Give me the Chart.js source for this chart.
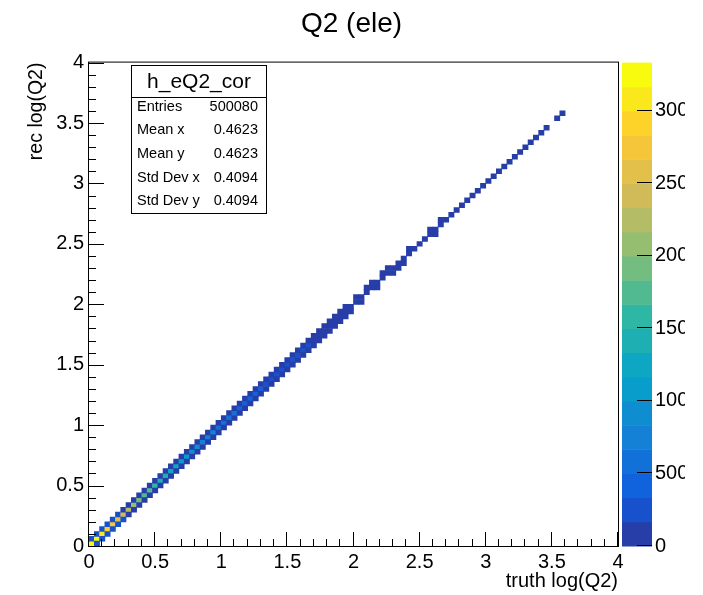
<!DOCTYPE html>
<html><head><meta charset="utf-8">
<script src="https://cdn.jsdelivr.net/npm/chart.js@4.4.1/dist/chart.umd.min.js"></script>
<style>html,body{margin:0;padding:0;background:#fff}</style>
</head><body>
<canvas id="c" width="703" height="595"></canvas>
<script>
// ---------------- data ----------------
const binWidth = 0.04;            // histogram bin width (100 bins over 0..4)
const axisTickValues = [0, 0.5, 1, 1.5, 2, 2.5, 3, 3.5, 4];
const axisTickLabels = ['0', '0.5', '1', '1.5', '2', '2.5', '3', '3.5', '4'];
const colorTickValues = [0, 500, 1000, 1500, 2000, 2500, 3000];
const colorTickLabels = ['0', '500', '1000', '1500', '2000', '2500', '3000'];
const chartTitle = 'Q2 (ele)';
const xTitle = 'truth log(Q2)';
const yTitle = 'rec log(Q2)';
const histName = 'h_eQ2_cor';
const statNames = ['Entries', 'Mean x', 'Mean y', 'Std Dev x', 'Std Dev y'];
const statValues = ['500080', '0.4623', '0.4623', '0.4094', '0.4094'];

// counts in cell (i, i) for truth bin i
const diagCounts = [3330,3260,3050,2900,2720,2560,2400,2250,2100,1960,
  1820,1700,1580,1480,1380,1280,1190,1100,1020,950,
  880,815,755,700,648,600,556,515,477,442,
  410,380,352,326,302,280,259,240,222,206,
  191,177,160,148,137,126,116,106,97,88,
  80,72,65,58,52,46,41,36,32,28,
  24,21,18,15,13,11,9,8,7,6,
  5,4,4,3,3,2,2,2,2,1,
  1,1,1,1,1,1,1,0,1,1];
// counts in cell (i, i+1)
const aboveCounts = [240,230,215,200,190,178,166,158,148,138,
  128,120,112,104,97,90,84,78,72,67,
  62,58,54,50,46,43,40,37,34,32,
  30,28,26,24,22,20,19,17,16,15,
  14,13,12,11,10,9,8,7,6,0,
  5,0,4,4,0,3,3,0,0,0,
  2,0,0,0,2,0,1,0,0,0,
  0,0,0,0,0,0,0,0,0,0,
  0,0,0,0,0,0,0,0,0,0];
// counts in cell (i, i-1)
const belowCounts = [0,235,222,205,194,180,170,160,150,140,
  131,122,114,106,99,92,86,80,74,69,
  64,59,55,51,47,44,41,38,35,33,
  31,29,27,25,23,21,20,18,17,16,
  15,14,13,12,11,10,9,8,7,6,
  0,5,0,0,4,0,0,3,3,2,
  0,0,0,0,0,2,0,0,0,0,
  0,0,0,0,0,0,0,0,0,0,
  0,0,0,0,0,0,0,0,0,0];

// ---------------- palette (ROOT kBird, 20 contours) ----------------
const birdR = [0.2082,0.0592,0.0780,0.0232,0.1802,0.5301,0.8186,0.9956,0.9764];
const birdG = [0.1664,0.3599,0.5041,0.6419,0.7178,0.7492,0.7328,0.7862,0.9832];
const birdB = [0.5293,0.8684,0.8385,0.7914,0.6425,0.4662,0.3499,0.1968,0.0539];
const nContours = 20;
const colorMax = Math.max(...diagCounts, ...aboveCounts, ...belowCounts);
function paletteAt(t) {
  const s = t * 8; const j = Math.min(7, Math.floor(s)); const f = s - j;
  const c = (arr) => Math.round(255 * (arr[j] + (arr[j + 1] - arr[j]) * f));
  return `rgb(${c(birdR)},${c(birdG)},${c(birdB)})`;
}
function levelColorIdx(k) {
  const idx = Math.floor((k + 0.99) * 255 / nContours);
  return paletteAt(Math.min(idx, 254) / 254);
}
function countColor(n) {
  let k = Math.floor(n / (colorMax / nContours));
  if (k > nContours - 1) k = nContours - 1;
  return levelColorIdx(k);
}

// ---------------- cells ----------------
const cells = [];
function addCell(ix, iy, n) {
  if (n > 0 && iy >= 0) cells.push({ x: (ix + 0.5) * binWidth, y: [iy * binWidth, (iy + 1) * binWidth], v: n });
}
diagCounts.forEach((n, i) => {
  addCell(i, i, n);
  addCell(i, i + 1, aboveCounts[i] || 0);
  addCell(i, i - 1, belowCounts[i] || 0);
});

const FONT = "'Liberation Sans', Arial, Helvetica, sans-serif";

const padClip = {
  id: 'padClip',
  beforeDraw(chart) {
    const ctx = chart.ctx;
    ctx.save();
    ctx.beginPath(); ctx.rect(0, 0, 685, chart.height); ctx.clip();
  },
  afterDraw(chart) { chart.ctx.restore(); }
};

const decor = {
  id: 'decor',
  afterDraw(chart) {
    const ctx = chart.ctx, a = chart.chartArea;
    const xs = chart.scales.x, ys = chart.scales.y, cs = chart.scales.y2;
    ctx.save();
    ctx.strokeStyle = '#000'; ctx.lineWidth = 1;
    // frame
    ctx.strokeRect(a.left - 0.5, a.top - 0.5, a.right - a.left + 1, a.bottom - a.top + 1);
    // axis ticks (inward)
    ctx.beginPath();
    for (let k = 0; k <= 40; k++) {
      const v = k * 0.1; const L = (k % 5 === 0) ? 14 : 7;
      const px = Math.round(xs.getPixelForValue(v)) - 0.5;
      ctx.moveTo(px, a.bottom); ctx.lineTo(px, a.bottom - L);
      const py = Math.round(ys.getPixelForValue(v)) + 0.5;
      const Ly = (k % 5 === 0) ? 15 : 7;
      ctx.moveTo(a.left, py); ctx.lineTo(a.left + Ly, py);
    }
    ctx.stroke();
    // palette
    const x0 = a.right + 4, x1 = a.right + 34;
    const step = colorMax / nContours;
    for (let k = 0; k < nContours; k++) {
      const yb = cs.getPixelForValue(k * step), yt = cs.getPixelForValue((k + 1) * step);
      ctx.fillStyle = levelColorIdx(k);
      ctx.fillRect(x0, yt, x1 - x0, yb - yt + 0.5);
    }
    ctx.beginPath();
    colorTickValues.forEach(v => {
      const py = Math.round(cs.getPixelForValue(v)) - 0.5;
      ctx.moveTo(x1 - 15, py); ctx.lineTo(x1, py);
    });
    ctx.stroke();
    // stats box
    const bx0 = 131.5, by0 = 65.5, bx1 = 266.5, by1 = 213.5, sep = 97.5;
    ctx.fillStyle = '#fff';
    ctx.fillRect(bx0, by0, bx1 - bx0, by1 - by0);
    ctx.strokeRect(bx0, by0, bx1 - bx0, by1 - by0);
    ctx.beginPath(); ctx.moveTo(bx0, sep); ctx.lineTo(bx1, sep); ctx.stroke();
    ctx.fillStyle = '#000';
    ctx.font = `21px ${FONT}`; ctx.textAlign = 'center'; ctx.textBaseline = 'middle';
    ctx.fillText(histName, (bx0 + bx1) / 2, 82);
    ctx.font = `14.5px ${FONT}`;
    const rowY = [107, 130, 153.5, 178, 201];
    statNames.forEach((s, i) => {
      ctx.textAlign = 'left'; ctx.fillText(s, 137, rowY[i]);
      ctx.textAlign = 'right'; ctx.fillText(statValues[i], 258, rowY[i]);
    });
    ctx.restore();
  }
};

new Chart(document.getElementById('c'), {
  type: 'bar',
  data: {
    datasets: [{
      data: cells,
      backgroundColor: (c) => c.raw ? countColor(c.raw.v) : '#000',
      borderWidth: 0,
      barPercentage: 1,
      categoryPercentage: 1,
      grouped: false
    }]
  },
  options: {
    responsive: false,
    animation: false,
    events: [],
    layout: { padding: 0 },
    plugins: {
      legend: { display: false },
      tooltip: { enabled: false },
      title: {
        display: true, text: chartTitle, color: '#000',
        font: { family: FONT, size: 28, weight: 'normal' },
        padding: { top: 7, bottom: 22 }
      }
    },
    scales: {
      x: {
        type: 'linear', position: 'bottom', min: 0, max: 4, offset: false,
        afterFit: (s) => { s.height = 46; },
        afterBuildTicks: (s) => { s.ticks = axisTickValues.map(v => ({ value: v })); },
        ticks: { autoSkip: false, maxRotation: 0, padding: 4, color: '#000',
          font: { family: FONT, size: 20 },
          callback: (v, i) => axisTickLabels[i] },
        grid: { display: false, drawTicks: false }, border: { display: false },
        title: { display: true, text: xTitle, align: 'end', color: '#000',
          font: { family: FONT, size: 20 }, padding: { top: 0, bottom: -1 } }
      },
      y: {
        type: 'linear', position: 'left', min: 0, max: 4,
        afterFit: (s) => { s.width = 89; },
        afterBuildTicks: (s) => { s.ticks = axisTickValues.map(v => ({ value: v })); },
        ticks: { autoSkip: false, padding: 5, color: '#000',
          font: { family: FONT, size: 20 },
          callback: (v, i) => axisTickLabels[i] },
        grid: { display: false, drawTicks: false }, border: { display: false },
        title: { display: true, text: yTitle, align: 'end', color: '#000',
          font: { family: FONT, size: 19.5 }, padding: { top: 25, bottom: 0 } }
      },
      y2: {
        type: 'linear', position: 'right', min: 0, max: colorMax,
        afterFit: (s) => { s.width = 85; },
        afterBuildTicks: (s) => { s.ticks = colorTickValues.map(v => ({ value: v })); },
        ticks: { autoSkip: false, padding: 37, color: '#000',
          font: { family: FONT, size: 20 },
          callback: (v, i) => colorTickLabels[i] },
        grid: { display: false, drawTicks: false }, border: { display: false }
      }
    }
  },
  plugins: [padClip, decor]
});
</script>
</body></html>
